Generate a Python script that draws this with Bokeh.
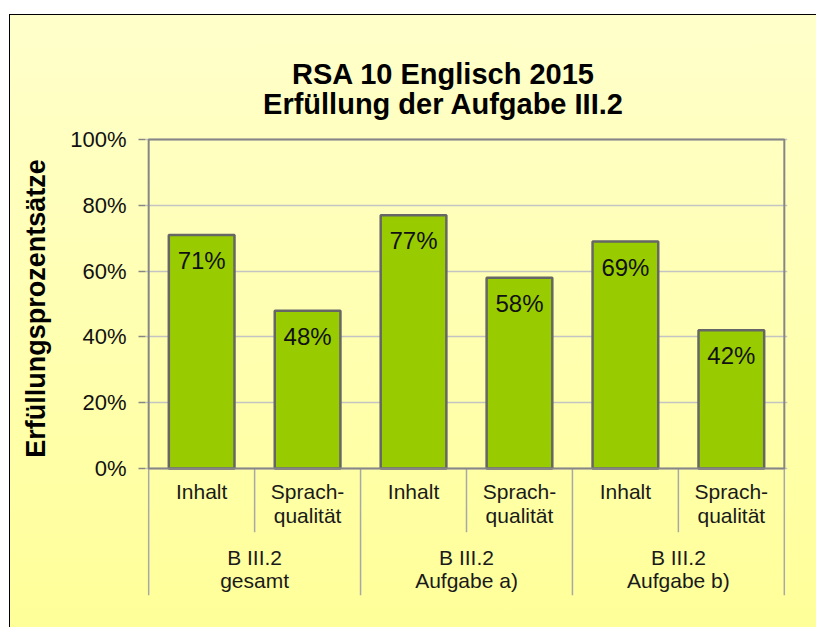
from bokeh.plotting import figure
from bokeh.models import (ColumnDataSource, FactorRange, Range1d, FixedTicker,
                          PrintfTickFormatter)
from bokeh.core.properties import value
from bokeh.embed import file_html
from bokeh.resources import INLINE

# ---- data ----
groups = ["B III.2\ngesamt", "B III.2\nAufgabe a)", "B III.2\nAufgabe b)"]
subs = ["Inhalt", "Sprach-\nqualität"]
values = [71, 48, 77, 58, 69, 42]
y_ticks = [0, 20, 40, 60, 80, 100]
y_tick_labels = ["0%", "20%", "40%", "60%", "80%", "100%"]
title_lines = ["RSA 10 Englisch 2015", "Erfüllung der Aufgabe III.2"]
y_title = "Erfüllungsprozentsätze"

factors = [(g, s) for g in groups for s in subs]
n = len(factors)

FONT = value("Liberation Sans")

x_range = FactorRange(*factors, group_padding=0, factor_padding=0,
                      range_padding=0.03, range_padding_units="absolute")
y_range = Range1d(-38.6, 135.9)

p = figure(width=816, height=627, x_range=x_range, y_range=y_range,
           output_backend="svg", toolbar_location=None,
           x_axis_location=None,
           min_border_left=145, min_border_right=29,
           min_border_top=21, min_border_bottom=32)
p.styles = {
    "background-image":
        "linear-gradient(to right, #ffffff 0px, #ffffff 9px, transparent 9px),"
        "linear-gradient(to bottom, #ffffff 0px, #ffffff 14px, #000000 14px, #000000 15px, transparent 15px),"
        "linear-gradient(to right, transparent 9px, #000000 9px, #000000 10px, transparent 10px),"
        "linear-gradient(to bottom, #FFFFCC 0%, #FFFF99 100%)",
    "background-repeat": "no-repeat",
    "background-size": "100% 100%",
}
p.background_fill_color = None
p.border_fill_color = None
p.outline_line_color = None

# y axis
p.yaxis.ticker = FixedTicker(ticks=y_ticks)
p.yaxis.formatter = PrintfTickFormatter(format="%d%%")
p.yaxis.major_label_overrides = dict(zip(y_ticks, y_tick_labels))
p.yaxis.axis_line_color = None
p.yaxis.major_tick_out = 7
p.yaxis.major_tick_in = 0
p.yaxis.minor_tick_line_color = None
p.yaxis.major_tick_line_color = "#868686"
p.yaxis.major_tick_line_width = 1.5
p.yaxis.major_label_standoff = 12
p.yaxis.major_label_text_font = "Liberation Sans"
p.yaxis.major_label_text_font_size = "22px"
p.yaxis.major_label_text_color = "#111111"
p.yaxis.axis_label = y_title
p.yaxis.axis_label_text_font = "Liberation Sans"
p.yaxis.axis_label_text_font_size = "27px"
p.yaxis.axis_label_text_font_style = "bold"
p.yaxis.axis_label_text_color = "#000000"
p.yaxis.axis_label_standoff = 16

p.ygrid.grid_line_color = "#C4C4C4"
p.ygrid.grid_line_width = 1.5
p.xgrid.visible = False

# separators below the plot area
sub_bounds = [i for i in range(1, n) if i % len(subs) != 0]
grp_bounds = [i for i in range(0, n + 1) if i % len(subs) == 0]
p.segment(x0=sub_bounds, x1=sub_bounds, y0=[0] * len(sub_bounds), y1=[-19.4] * len(sub_bounds),
          line_color="#A8A8A8", line_width=1.5)
p.segment(x0=grp_bounds, x1=grp_bounds, y0=[0] * len(grp_bounds), y1=[-38.6] * len(grp_bounds),
          line_color="#A8A8A8", line_width=1.5)

# bars
src = ColumnDataSource(dict(x=factors, top=values,
                            lbl=[f"{v}%" for v in values]))
p.vbar(x="x", top="top", width=0.62, bottom=0, source=src,
       fill_color="#99CC00", line_color="#666666", line_width=2.5)

# plot frame
p.quad(left=[0], right=[n], bottom=[y_ticks[0]], top=[y_ticks[-1]],
       fill_color=None, line_color="#868686", line_width=2)

# bar labels
p.text(x="x", y="top", text="lbl", source=src, text_font=FONT,
       text_font_size="24px", text_align="center", text_baseline="top",
       y_offset=12, text_color="#111111")

# category labels
p.text(x=factors, y=[-3.6] * n, text=[f[1] for f in factors], text_font=FONT,
       text_font_size="21px", text_align="center", text_baseline="top",
       text_line_height=1.02, text_color="#1a1a1a")
p.text(x=groups, y=[-23.5] * len(groups), text=groups, text_font=FONT,
       text_font_size="21px", text_align="center", text_baseline="top",
       text_line_height=1.02, text_color="#1a1a1a")

# title (two lines)
p.text(x=[2.783, 2.783], y=[120.0, 110.9], text=title_lines, text_font=FONT,
       text_font_size="29px", text_font_style="bold", text_align="center",
       text_baseline="alphabetic", text_color="#000000")

open("out.html", "w").write(file_html(p, INLINE))
